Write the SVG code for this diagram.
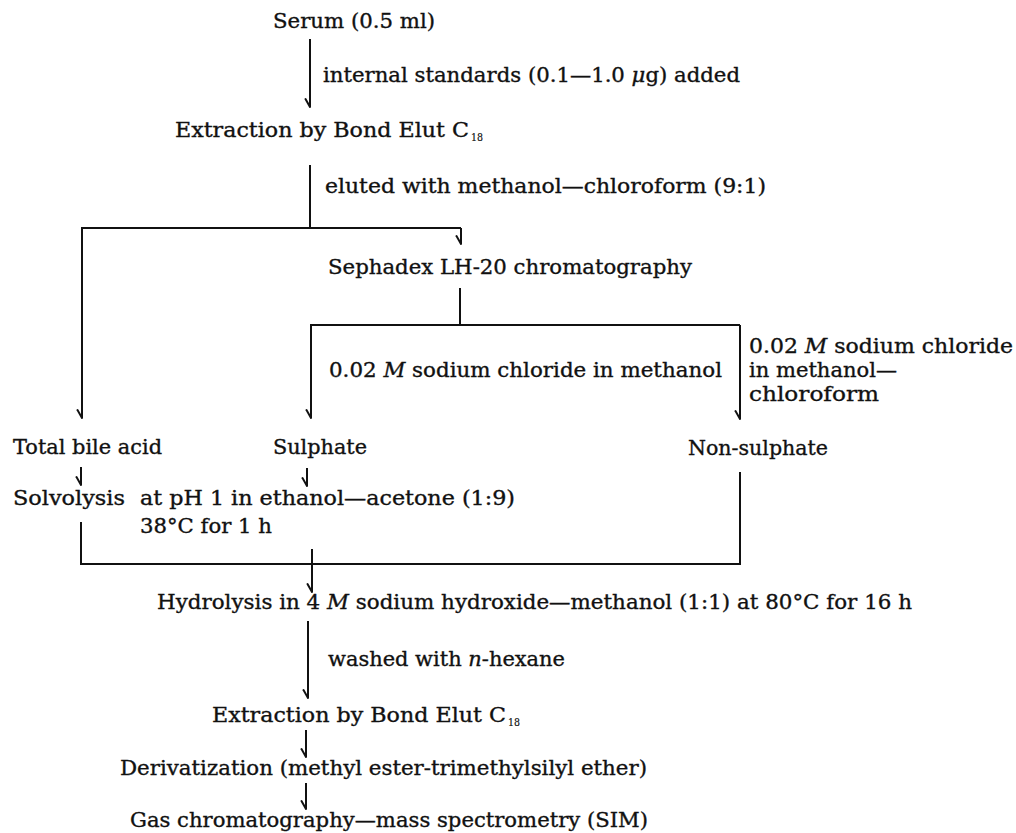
<svg xmlns="http://www.w3.org/2000/svg" width="1016" height="833" viewBox="0 0 1016 833">
<style>
text{font-family:"DejaVu Serif","Liberation Serif",serif;font-size:20px;fill:#111;stroke:#111;stroke-width:0.35px}
.sub{font-size:11px;stroke-width:0.2px}
.ln{fill:none;stroke:#111;stroke-width:2}
.ar{marker-end:url(#barb)}
</style>
<defs>
<marker id="barb" markerUnits="userSpaceOnUse" viewBox="-10 -6 12 12" refX="0" refY="0" markerWidth="12" markerHeight="12" orient="auto" overflow="visible">
<path d="M-8,4.5 L0,0" fill="none" stroke="#111" stroke-width="2" stroke-linecap="round"/>
</marker>
</defs>
<rect width="1016" height="833" fill="#fff"/>
<g id="connectors">
<path class="ln ar" d="M310,39 V107"/>
<path class="ln" d="M310,165 V228"/>
<path class="ln ar" d="M461,228 H82 V418"/>
<path class="ln ar" d="M461,228 V244"/>
<path class="ln" d="M460,288 V325"/>
<path class="ln ar" d="M740,325 H311 V418"/>
<path class="ln ar" d="M740,325 V419"/>
<path class="ln ar" d="M81,467 V485"/>
<path class="ln ar" d="M307,468 V486"/>
<path class="ln" d="M81,522 V564 H740 V472"/>
<path class="ln ar" d="M312,549 V592"/>
<path class="ln ar" d="M308,621 V698"/>
<path class="ln ar" d="M306,730 V757"/>
<path class="ln ar" d="M306,783 V809"/>
</g>
<g id="edge-labels">
<text x="323" y="82" textLength="417" lengthAdjust="spacingAndGlyphs">internal standards (0.1—1.0 <tspan font-style="italic">μ</tspan>g) added</text>
<text x="325" y="193" textLength="441" lengthAdjust="spacingAndGlyphs">eluted with methanol—chloroform (9:1)</text>
<text x="329" y="377" textLength="393" lengthAdjust="spacingAndGlyphs">0.02 <tspan font-style="italic">M</tspan> sodium chloride in methanol</text>
<text x="749" y="353" textLength="264" lengthAdjust="spacingAndGlyphs">0.02 <tspan font-style="italic">M</tspan> sodium chloride</text>
<text x="749" y="377" textLength="148" lengthAdjust="spacingAndGlyphs">in methanol—</text>
<text x="749" y="401" textLength="130" lengthAdjust="spacingAndGlyphs">chloroform</text>
<text x="328" y="666" textLength="237" lengthAdjust="spacingAndGlyphs">washed with <tspan font-style="italic">n</tspan>-hexane</text>
</g>
<g id="serum"><text x="273" y="28" textLength="162" lengthAdjust="spacingAndGlyphs">Serum (0.5 ml)</text></g>
<g id="extraction1"><text x="175" y="137" textLength="294" lengthAdjust="spacingAndGlyphs">Extraction by Bond Elut C</text><text class="sub" x="471" y="141" textLength="12" lengthAdjust="spacingAndGlyphs">18</text></g>
<g id="sephadex"><text x="328" y="274" textLength="364" lengthAdjust="spacingAndGlyphs">Sephadex LH-20 chromatography</text></g>
<g id="total"><text x="13" y="454" textLength="149" lengthAdjust="spacingAndGlyphs">Total bile acid</text></g>
<g id="sulphate"><text x="273" y="454" textLength="94" lengthAdjust="spacingAndGlyphs">Sulphate</text></g>
<g id="nonsulphate"><text x="688" y="455" textLength="140" lengthAdjust="spacingAndGlyphs">Non-sulphate</text></g>
<g id="solvolysis"><text x="13" y="505" textLength="112" lengthAdjust="spacingAndGlyphs">Solvolysis</text><text x="140" y="505" textLength="375" lengthAdjust="spacingAndGlyphs">at pH 1 in ethanol—acetone (1:9)</text><text x="140" y="533" textLength="132" lengthAdjust="spacingAndGlyphs">38°C for 1 h</text></g>
<g id="hydrolysis"><text x="157" y="609" textLength="755" lengthAdjust="spacingAndGlyphs">Hydrolysis in 4 <tspan font-style="italic">M</tspan> sodium hydroxide—methanol (1:1) at 80°C for 16 h</text></g>
<g id="extraction2"><text x="212" y="722" textLength="294" lengthAdjust="spacingAndGlyphs">Extraction by Bond Elut C</text><text class="sub" x="508" y="726" textLength="12" lengthAdjust="spacingAndGlyphs">18</text></g>
<g id="derivatization"><text x="120" y="775" textLength="527" lengthAdjust="spacingAndGlyphs">Derivatization (methyl ester-trimethylsilyl ether)</text></g>
<g id="gcms"><text x="130" y="827" textLength="518" lengthAdjust="spacingAndGlyphs">Gas chromatography—mass spectrometry (SIM)</text></g>
</svg>
